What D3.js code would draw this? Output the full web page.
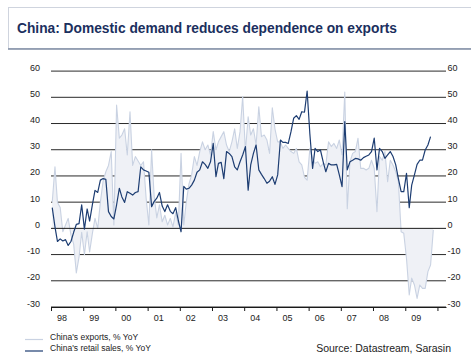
<!DOCTYPE html>
<html>
<head>
<meta charset="utf-8">
<script src="https://cdn.jsdelivr.net/npm/d3@7"></script>
<style>
  body { margin: 0; background: #fff; }
  svg { display: block; font-family: "Liberation Sans", Arial, Helvetica, sans-serif; }
</style>
</head>
<body>
<svg id="chart" width="471" height="356"></svg>
<script>
// Monthly series, first observation January 1998
const startYear = 1998;

// China's exports, % YoY (Jan 1998 – Nov 2009)
const exportsYoY = [
  10, 23.5, 10, 8, -1.3, 1.3, 3.8, -2.5, -6, -17, -11, -1.5,
  -10, -1.3, -9, -2, 3.8, 0, 10, 18, 21.6, 24, 29.3, 1.3,
  47, 34.4, 35.6, 38, 28, 44.5, 24, 27.4, 25.7, 24, 25.4, 11.5,
  1.3, 30, 12.7, 4, 9, 2.5, 5, 1.3, 3.8, 0.6, 6, 1.3,
  28.6, 1.3, 10, 17, 20.4, 27.4, 24, 29.3, 33, 30, 31.8, 28,
  36.9, 30, 33, 35, 36.9, 31.8, 29.3, 33, 38, 30.5, 36.9, 50.3,
  29.3, 42.6, 35.6, 38, 31.8, 46.4, 35, 35.6, 33.7, 28.6, 46, 38,
  33, 33, 30.5, 31.8, 30.5, 29.3, 28.6, 30.5, 25.4, 24.2, 19.5, 18.4,
  30.5, 26.7, 24.8, 25.4, 23.5, 24.8, 24.2, 33, 31.2, 32.4, 30.5, 33.7,
  28, 52, 7.5, 25.4, 28.6, 29.3, 34.4, 22.9, 22.9, 22.3, 22.9, 26,
  22.9, 6.4, 27.4, 26, 29.3, 17.8, 26, 24.2, 21.6, 17.8, -1.3, -1.9,
  -11.5, -25.4, -19, -21.6, -26.7, -21.6, -22.9, -22.9, -16.5, -14, -0.6
];

// China's retail sales, % YoY (Jan 1998 – Oct 2009)
const retailYoY = [
  7.9, 0.6, -5, -4, -4.8, -4.3, -6.5, -5, -1.5, 1.5, 1.8, 9,
  -0.3, 7.4, 2.8, 9, 14.5, 13.7, 18.4, 19, 18.7, 6.4, 4.5, 3.6,
  9, 15.3, 12, 9.9, 14, 13.4, 12.7, 13.7, 14, 23.5, 22.3, 21.9,
  21.4, 8.3, 10.2, 11.5, 13.7, 8.5, 6.4, 9, 6.5, 5.6, 7.9, 3,
  -1.3, 16, 15, 15.3, 16.5, 18.4, 21.4, 22.3, 25.4, 24.4, 22.9, 25.4,
  32.4, 19.7, 24.8, 25.2, 19, 29.3, 28.6, 27.4, 23.5, 22.3, 25.4, 28,
  31.2, 14.6, 24.2, 28.6, 31.8, 22.3, 20.6, 19, 17.2, 18, 19.7, 16.8,
  20.4, 33.7, 32.8, 32.8, 32.4, 36.9, 42, 43, 41.6, 44.5, 44.3, 52.4,
  36, 22.9, 30.5, 29.3, 29.9, 25.4, 21.6, 24.8, 24.2, 24.2, 24.4, 20.4,
  15.9, 40.7, 22.3, 25.4, 26, 26.7, 26.5, 26, 27, 27.5, 28, 29.3,
  34.4, 22.3, 30.5, 29.3, 26.7, 28, 29.3, 27.4, 24.2, 19, 14, 14,
  21, 7.9, 16.5, 20.4, 24.4, 26, 26, 29.9, 31.8, 35
];

const yTicks = [-30, -20, -10, 0, 10, 20, 30, 40, 50, 60];
const yearLabels = ["98", "99", "00", "01", "02", "03", "04", "05", "06", "07", "08", "09"];

const titleText = "China: Domestic demand reduces dependence on exports";
const legendItems = [
  { label: "China's exports, % YoY", color: "#c9d2e2" },
  { label: "China's retail sales, % YoY", color: "#1d3d72" }
];
const sourceText = "Source: Datastream, Sarasin";

const svg = d3.select("#chart");

// Title panel
svg.append("rect")
  .attr("x", 8.5).attr("y", 7.5).attr("width", 470).attr("height", 41)
  .attr("fill", "#fff").attr("stroke", "#cfd4de").attr("stroke-width", 1);
svg.append("line")
  .attr("x1", 8).attr("x2", 471).attr("y1", 49).attr("y2", 49)
  .attr("stroke", "#7f8ca3").attr("stroke-width", 1.6);
svg.append("text")
  .attr("x", 17).attr("y", 33)
  .attr("font-size", 14.5).attr("font-weight", "bold")
  .attr("fill", "#1b2f5e")
  .attr("textLength", 380).attr("lengthAdjust", "spacingAndGlyphs")
  .text(titleText);

// Scales
const left = 51, right = 446;
const x = d3.scaleTime()
  .domain([new Date(1998, 0, 1), new Date(2010, 3, 8)])
  .range([left, right]);
const y = d3.scaleLinear().domain([-30, 60]).range([307, 71.1]);
const dateOf = i => new Date(startYear, i, 15);

// Horizontal grid
const grid = svg.append("g");
grid.selectAll("line")
  .data(yTicks.filter(v => v !== 0))
  .join("line")
  .attr("x1", left).attr("x2", right)
  .attr("y1", d => y(d)).attr("y2", d => y(d))
  .attr("stroke", "#2a2a2a").attr("stroke-width", 1);

// Exports: shaded area against the zero line
const area = d3.area()
  .x((d, i) => x(dateOf(i)))
  .y0(y(0))
  .y1(d => y(d));
svg.append("path")
  .datum(exportsYoY)
  .attr("d", area)
  .attr("fill", "#eff1f6");
svg.append("path")
  .datum(exportsYoY)
  .attr("d", d3.line().x((d, i) => x(dateOf(i))).y(d => y(d)))
  .attr("fill", "none")
  .attr("stroke", legendItems[0].color)
  .attr("stroke-width", 1.1)
  .attr("stroke-linejoin", "round");

// Zero line above the shading
svg.append("line")
  .attr("x1", left).attr("x2", right)
  .attr("y1", y(0)).attr("y2", y(0))
  .attr("stroke", "#1a1a1a").attr("stroke-width", 1);

// Retail sales line
svg.append("path")
  .datum(retailYoY)
  .attr("d", d3.line().x((d, i) => x(dateOf(i))).y(d => y(d)))
  .attr("fill", "none")
  .attr("stroke", legendItems[1].color)
  .attr("stroke-width", 1.2)
  .attr("stroke-linejoin", "round");

// Y labels on both sides
const yLab = svg.append("g").attr("font-size", 9).attr("fill", "#222");
yLab.selectAll("text.l")
  .data(yTicks).join("text").attr("class", "l")
  .attr("x", 40).attr("y", d => y(d) - 0.5)
  .attr("text-anchor", "end")
  .text(d => d);
yLab.selectAll("text.r")
  .data(yTicks).join("text").attr("class", "r")
  .attr("x", 447.5).attr("y", d => y(d) - 0.5)
  .attr("text-anchor", "start")
  .text(d => d);

// Time axis with yearly ticks
const xAxis = d3.axisBottom(x)
  .ticks(d3.timeYear.every(1))
  .tickSize(4)
  .tickSizeOuter(0)
  .tickFormat("");
const gx = svg.append("g").attr("transform", `translate(0,${y(-30)})`).call(xAxis);
gx.select(".domain").attr("stroke", "#1a1a1a");
gx.selectAll(".tick line").attr("stroke", "#1a1a1a");

svg.append("g").attr("font-size", 9).attr("fill", "#222")
  .selectAll("text")
  .data(yearLabels).join("text")
  .attr("x", (d, k) => x(new Date(startYear + k, 0, 1)) + 6)
  .attr("y", 321)
  .text(d => d);

// Legend
const legend = svg.append("g");
legendItems.forEach((item, k) => {
  const ly = 339.5 + k * 11.5;
  legend.append("line")
    .attr("x1", 25).attr("x2", 43).attr("y1", ly).attr("y2", ly)
    .attr("stroke", item.color).attr("stroke-width", 1.2);
  legend.append("text")
    .attr("x", 50).attr("y", ly)
    .attr("font-size", 8.5).attr("fill", "#222")
    .text(item.label);
});

// Source note
svg.append("text")
  .attr("x", 451).attr("y", 352)
  .attr("text-anchor", "end")
  .attr("font-size", 10.5).attr("fill", "#222")
  .text(sourceText);
</script>
</body>
</html>
